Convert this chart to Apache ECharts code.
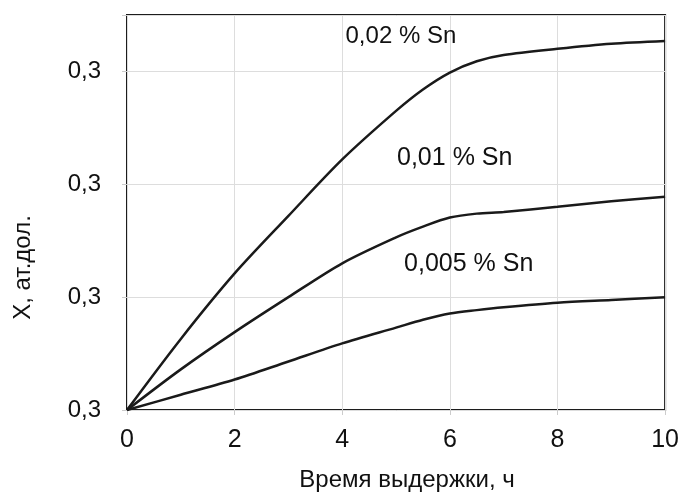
<!DOCTYPE html>
<html>
<head>
<meta charset="utf-8">
<script src="https://cdn.jsdelivr.net/npm/echarts@6/dist/echarts.min.js"></script>
<style>
  html, body { margin: 0; padding: 0; background: #fff; }
  #chart { width: 682px; height: 497px; }
</style>
</head>
<body>
<div id="chart"></div>
<script>
// время выдержки, ч
var hours = [0, 1, 2, 3, 4, 5, 5.5, 6, 6.5, 7, 8, 9, 10];

// X, ат.дол. для разных содержаний олова
var sn002 = [0, 0.63, 1.21, 1.72, 2.22, 2.65, 2.84, 2.99, 3.09, 3.145, 3.20, 3.245, 3.27];
var sn001 = [0, 0.36, 0.69, 1.00, 1.30, 1.53, 1.625, 1.705, 1.74, 1.755, 1.80, 1.85, 1.89];
var sn0005 = [0, 0.135, 0.27, 0.43, 0.59, 0.73, 0.80, 0.855, 0.885, 0.91, 0.95, 0.975, 1.0];

var seriesNames = ['0,02 % Sn', '0,01 % Sn', '0,005 % Sn'];

var xTicks = [0, 2, 4, 6, 8, 10];
var yTickLabels = ['0,3', '0,3', '0,3', '0,3'];

var FONT = '"Liberation Sans", Arial, sans-serif';

function pairs(xs, ys) {
	var out = [];
	for (var i = 0; i < xs.length; i++) {
		out.push([xs[i], ys[i]]);
	}
	return out;
}

// одна кривая + подпись к ней
function makeSeries(name, values, labelCoord, fontSize) {
	return {
		name: name,
		type: 'line',
		data: pairs(hours, values),
		smooth: 0.3,
		symbol: 'none',
		lineStyle: { color: '#1a1a1a', width: 2.5 },
		markPoint: {
			silent: true,
			symbol: 'circle',
			symbolSize: 1,
			itemStyle: { color: 'rgba(0,0,0,0)' },
			label: {
				show: true,
				position: 'inside',
				formatter: name,
				color: '#111',
				fontFamily: FONT,
				fontSize: fontSize
			},
			data: [{ coord: labelCoord }]
		}
	};
}

var chart = echarts.init(document.getElementById('chart'));

var option = {
	animation: false,
	backgroundColor: '#fff',
	grid: {
		left: 127,
		right: 15,
		top: 15,
		bottom: 86,
		show: true,
		borderColor: '#1c1c1c',
		borderWidth: 2
	},
	xAxis: {
		type: 'value',
		min: 0,
		max: 10,
		interval: 2,
		name: 'Время выдержки, ч',
		nameLocation: 'middle',
		nameGap: 58,
		nameTextStyle: { color: '#111', fontFamily: FONT, fontSize: 24, padding: [0, 0, 0, 22] },
		axisLine: { show: false },
		axisTick: { show: true, length: 5, lineStyle: { color: '#ccc' } },
		axisLabel: {
			color: '#111',
			fontFamily: FONT,
			fontSize: 25,
			margin: 18,
			formatter: function (v) {
				return xTicks.indexOf(v) >= 0 ? String(v) : '';
			}
		},
		splitLine: { show: true, lineStyle: { color: '#ddd', width: 1 } }
	},
	yAxis: {
		type: 'value',
		min: 0,
		max: 3.5,
		interval: 1,
		name: 'X, ат.дол.',
		nameLocation: 'middle',
		nameGap: 92,
		nameRotate: 90,
		nameTextStyle: { color: '#111', fontFamily: FONT, fontSize: 24, padding: [0, 110, 0, 0] },
		axisLine: { show: false },
		axisTick: { show: true, length: 5, lineStyle: { color: '#ccc' } },
		axisLabel: {
			color: '#111',
			fontFamily: FONT,
			fontSize: 24,
			margin: 26,
			formatter: function (v) {
				return yTickLabels[v] !== undefined ? yTickLabels[v] : '';
			}
		},
		splitLine: { show: true, lineStyle: { color: '#ddd', width: 1 } }
	},
	series: [
		makeSeries(seriesNames[0], sn002, [5.09, 3.31], 24),
		makeSeries(seriesNames[1], sn001, [6.09, 2.23], 25),
		makeSeries(seriesNames[2], sn0005, [6.35, 1.29], 25)
	]
};

chart.setOption(option);
</script>
</body>
</html>
